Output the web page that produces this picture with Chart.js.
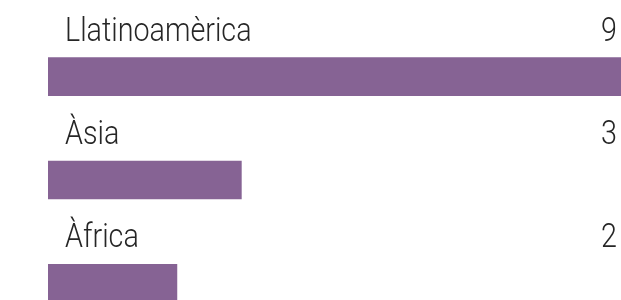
<!DOCTYPE html>
<html>
<head>
<meta charset="utf-8">
<script src="https://cdn.jsdelivr.net/npm/chart.js@4"></script>
<style>
  html, body { margin: 0; padding: 0; background: #fff; }
  #wrap { width: 621px; height: 300px; overflow: hidden; }
</style>
</head>
<body>
<div id="wrap"><canvas id="grafic" width="621" height="340"></canvas></div>
<script>
// Dades del gràfic
const regions = ["Llatinoamèrica", "Àsia", "Àfrica"];
const valors = [9, 3, 2];

// Etiquetes per sobre de cada barra (nom a l'esquerra, valor a la dreta)
const etiquetes = {
    id: "etiquetes",
    afterDatasetsDraw(chart) {
        const ctx = chart.ctx;
        const meta = chart.getDatasetMeta(0);
        ctx.save();
        ctx.fillStyle = "#262626";
        ctx.font = "300 33px Roboto";
        ctx.textBaseline = "alphabetic";
        meta.data.forEach((bar, i) => {
            const top = bar.y - bar.height / 2;
            const y = top - 17;
            // text una mica condensat
            ctx.save();
            ctx.translate(65, y);
            ctx.scale(0.87, 1);
            ctx.textAlign = "left";
            ctx.fillText(regions[i], 0, 0);
            ctx.restore();

            ctx.save();
            ctx.translate(617, y);
            ctx.scale(0.87, 1);
            ctx.textAlign = "right";
            ctx.fillText(String(valors[i]), 0, 0);
            ctx.restore();
        });
        ctx.restore();
    }
};

const ctx = document.getElementById("grafic").getContext("2d");
const chart = new Chart(ctx, {
    type: "bar",
    data: {
        labels: regions,
        datasets: [{
            data: valors,
            backgroundColor: "#866394",
            borderWidth: 0,
            barThickness: 38
        }]
    },
    options: {
        indexAxis: "y",
        responsive: false,
        animation: false,
        layout: {
            padding: { left: 48, right: 0, top: 25, bottom: 5 }
        },
        plugins: {
            legend: { display: false },
            tooltip: { enabled: false }
        },
        scales: {
            x: { display: false, min: 0, max: 8.89 },
            y: { display: false }
        }
    },
    plugins: [etiquetes]
});
</script>
</body>
</html>
